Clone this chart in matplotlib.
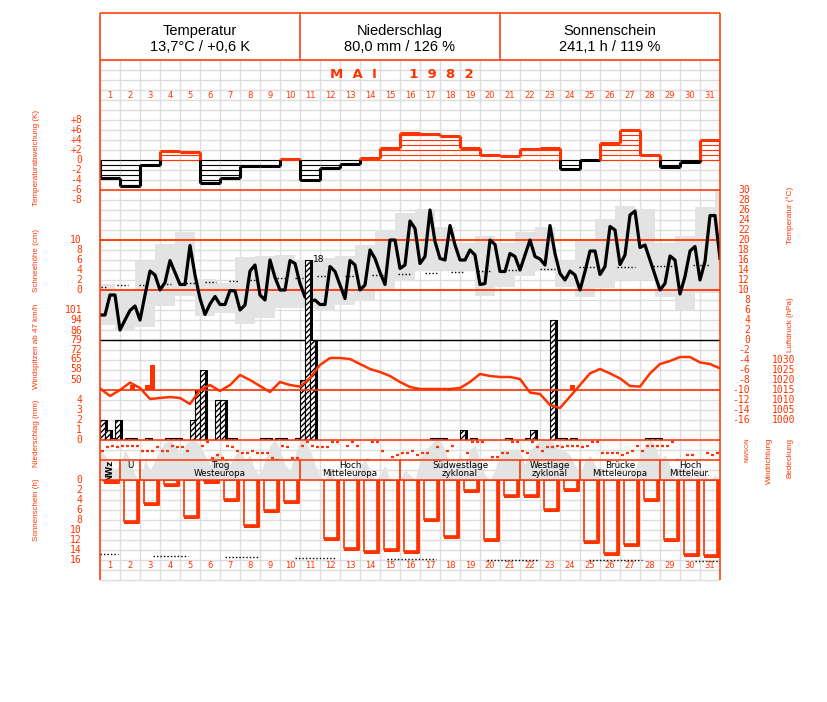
import numpy as np
import matplotlib
matplotlib.use('Agg')
import matplotlib.pyplot as plt

RED = '#ff3300'
GRID = '#dddddd'
GRAY = '#e3e3e3'

# ---------------- Daten ----------------
head_titles = ['Temperatur', 'Niederschlag', 'Sonnenschein']
head_values = ['13,7°C / +0,6 K', '80,0 mm / 126 %', '241,1 h / 119 %']
month_label = 'M  A  I       1  9  8  2'
days = np.arange(1, 32)

# Temperaturabweichung je Tag (K)
anomaly = [-3.5, -5.3, -1.0, 1.9, 1.7, -4.5, -3.5, -1.2, -1.2, 0.3,
           -4.1, -1.5, -0.8, 0.5, 2.5, 5.5, 5.2, 4.9, 2.5, 1.1,
           0.9, 2.3, 2.5, -1.7, 0.0, 3.5, 6.1, 1.1, -1.3, -0.4, 4.1]

# Temperatur alle 6 Stunden (°C)
temp_6h = [5.0, 5.0, 9.0, 9.0,   2.0, 4.0, 5.9, 6.8,   4.0, 9.0, 13.8, 13.0,
           10.0, 11.5, 15.9, 13.5,   11.1, 11.1, 18.9, 13.0,   8.3, 5.1, 7.2, 8.7,
           7.1, 7.1, 9.9, 9.8,   6.0, 7.0, 13.8, 15.0,   9.0, 8.0, 16.0, 12.5,
           10.0, 10.0, 15.9, 15.3,   11.3, 8.6, 7.7, 8.0,   7.1, 7.1, 14.7, 13.7,
           11.0, 8.3, 15.9, 15.0,   10.0, 11.0, 18.0, 16.3,   13.5, 11.1, 20.0, 20.0,
           14.3, 15.0, 23.8, 22.3,   15.3, 16.7, 26.0, 19.7,   16.3, 16.0, 22.9, 19.0,
           16.0, 16.0, 18.0, 17.0,   11.1, 11.3, 20.0, 19.1,   13.7, 13.7, 17.3, 16.7,
           14.0, 17.0, 20.0, 16.7,   16.2, 15.0, 22.9, 17.3,   13.3, 12.0, 13.8, 13.0,
           10.0, 13.7, 17.8, 17.8,   13.1, 14.7, 22.7, 22.0,   15.1, 17.0, 25.0, 25.8,
           18.5, 19.0, 16.0, 13.0,   10.0, 11.3, 16.8, 16.0,   9.2, 12.7, 17.8, 18.7,
           12.0, 15.7, 24.9, 24.9,   16.3]

# Tagesspanne Minimum/Maximum (grau)
tmax = [11.1, 10.1, 15.7, 19.2, 21.5, 12.1, 11.3, 16.5, 16.7, 17.0, 15.9, 16.3,
        16.8, 18.9, 21.9, 25.3, 26.1, 22.5, 19.3, 20.8, 19.4, 21.5, 22.6, 15.7,
        19.7, 24.2, 26.8, 26.2, 19.3, 20.7, 26.5, 30.0]
tmin = [3.0, 1.7, 2.5, 6.7, 8.7, 4.7, 5.3, 3.2, 4.4, 6.3, 6.3, 5.7,
        7.0, 7.7, 9.7, 11.8, 13.8, 14.0, 14.0, 8.7, 10.5, 12.7, 13.8, 10.5,
        8.5, 10.3, 12.0, 12.0, 8.5, 6.0, 9.3, 9.3]

# Normalwerte Temperatur (punktiert): Beginn, Ende (Tage), Wert
tnorm_start = [0.03, 0.85, 1.93, 3.15, 4.32, 5.23, 6.43, 7.48, 8.83, 9.75, 10.83, 12.25,
               13.58, 14.9, 16.25, 17.53, 18.9, 20.4, 22.0, 23.95, 25.83, 27.65, 29.65]
tnorm_end = [0.32, 1.4, 2.32, 3.57, 4.73, 5.82, 6.9, 7.9, 9.33, 10.15, 11.33, 12.75,
             14.17, 15.5, 16.92, 18.2, 19.5, 21.0, 22.75, 24.85, 26.75, 28.6, 30.5]
tnorm_val = [10.5, 10.9, 11.0, 11.1, 11.3, 11.5, 11.8, 12.0, 12.3, 12.4, 12.7, 12.8,
             13.0, 13.2, 13.3, 13.5, 13.7, 13.9, 14.1, 14.5, 14.6, 14.8, 14.9]

# Niederschlag je 6 Stunden (mm)
precip = [[2, 1, 0.2, 2], [0, 0.2, 0.2, 0], [0, 0.2, 0, 0], [0, 0.2, 0.2, 0.2],
          [0, 0, 2, 5], [7, 0, 0, 4], [4, 0.2, 0.2, 0], [0, 0, 0, 0],
          [0.2, 0.2, 0, 0.2], [0.2, 0, 0, 0.2], [6, 18, 10, 0], [0, 0, 0, 0],
          [0, 0, 0, 0], [0, 0, 0, 0], [0, 0, 0, 0], [0, 0, 0, 0],
          [0, 0, 0.2, 0.2], [0.2, 0, 0, 0], [1, 0, 0.2, 0], [0, 0, 0, 0],
          [0, 0.2, 0, 0], [0, 0.2, 1, 0], [0, 0, 12, 0.2], [0.2, 0, 0.2, 0],
          [0, 0, 0, 0], [0, 0, 0, 0], [0, 0, 0, 0], [0, 0.2, 0.2, 0.2],
          [0, 0, 0, 0], [0, 0, 0, 0], [0, 0, 0, 0]]

# Windspitzen (km/h)
gust_t = [1.5, 2.25, 2.5, 23.5]
gust_v = [46.4, 46.4, 61.0, 46.4]

# Luftdruck alle 12 Stunden (hPa)
pressure = [1015.8, 1012, 1015, 1018.7, 1016, 1010.5, 1011, 1011.5, 1011, 1008,
            1015, 1017.5, 1014.5, 1017.5, 1022.5, 1020, 1017, 1014, 1019, 1017.5,
            1016.7, 1021, 1027.5, 1031, 1031, 1030.5, 1028, 1025.5, 1024, 1022,
            1019, 1016.5, 1015.5, 1015.5, 1015.5, 1015.5, 1016, 1019, 1023, 1022,
            1021.5, 1021.5, 1020.5, 1013.7, 1013, 1007.5, 1006, 1011.7, 1017.5, 1023.3,
            1025.5, 1023.3, 1020.8, 1017, 1016.7, 1023.3, 1028, 1029.5, 1031.5, 1031.5,
            1028.8, 1028, 1025.8]

# Windrichtung alle 6 Stunden (Grad), nan = keine Angabe
nan = np.nan
winddir = [190, 130, 100, 130,  100, 100, 100, 100,  190, 190, 190, 130,  190, 190, 100, 130,
           130, 190, nan, nan,  100, 40, 320, 280,  320, 100, 130, 190,  230, 230, 190, 230,
           230, 230, 320, 360,  100, 130, 320, 320,  100, 40, 100, 130,  130, 130, 40, 40,
           nan, 100, 40, 100,  nan, 360, 40, 40,  190, nan, 310, 280,  230, 230, 190, 280,
           230, 230, nan, 130,  nan, 190, 100, nan,  nan, 230, 40, 40,  40, nan, 310, 310,
           230, 230, 40, 40,  190, 230, 40, 130,  190, 130, 130, 100,  130, 100, 100, 100,
           130, 100, 40, 40,  230, 230, 230, 230,  280, 230, 190, 100,  190, 100, 100, 100,
           100, 100, 40, 360,  nan, 280, 280, nan,  nan, 230, 280, 230]

# Bedeckung alle 6 Stunden (Achtel)
cloud = [6, 5, 3, 2,  3, 6, 4, 1,  0, 4, 2, 4,  6, 7.5, 8, 7,  5, 7, 8, 8,
         7, 5, 3, 5,  6, 4, 3, 5,  6, 4, 5, 2,  1, 4, 7, 8,  6, 3, 2, 5,
         8, 8, 6, 3,  1, 0, 2, 0,  0, 0, 0, 1,  3, 4, 2, 0,  1, 3, 0, 0,
         0, 2, 1, 0,  4, 6, 7, 8,  8, 6, 3, 2,  6, 2, 6, 7,  4, 1, 0, 2,
         6, 6, 6, 6,  6, 3, 6, 7,  8, 8, 8, 7,  6, 6, 5, 3,  1, 4, 5, 3,
         1, 0, 0, 0,  0, 0, 1, 2,  5, 7, 8, 7,  4, 5, 3, 0,  1, 3, 1, 0,
         2, 1, 0, 1,  0]

# Sonnenscheindauer (h)
sunshine = [0.2, 8.2, 4.5, 0.8, 7.2, 0.2, 3.7, 8.9, 5.9, 4.1, 0.0, 11.5, 13.5, 14.2, 13.7,
            14.2, 7.8, 11.2, 2.0, 11.7, 3.0, 3.0, 5.7, 1.8, 12.2, 14.5, 12.7, 3.8, 11.8,
            14.7, 14.9]
snorm_start = [0.0, 2.65, 6.25, 9.75, 14.35, 19.35, 24.45, 29.75]
snorm_end = [0.9, 4.4, 7.9, 11.8, 16.8, 21.85, 27.1, 31.0]
snorm_val = [14.8, 15.2, 15.4, 15.6, 15.7, 15.9, 16.0, 16.2]

# Grosswetterlagen
wt_labels = ['NWz', 'U', 'Trog\nWesteuropa', 'Hoch\nMitteleuropa', 'Südwestlage\nzyklonal',
             'Westlage\nzyklonal', 'Brücke\nMitteleuropa', 'Hoch\nMitteleur.']
wt_start = [1, 2, 3, 11, 16, 22, 25, 29]
wt_end = [1, 2, 10, 15, 21, 24, 28, 31]

# ---------------- Figur ----------------
W, H = 827, 702
fig = plt.figure(figsize=(W / 100, H / 100), dpi=100)
fig.patch.set_facecolor('white')


def panel(y0, y1, lo, hi):
    ax = fig.add_axes([100 / W, 1 - y1 / H, 620 / W, (y1 - y0) / H])
    ax.set_xlim(0, 31)
    ax.set_ylim(lo, hi)
    ax.axis('off')
    ax.patch.set_visible(False)
    return ax


def px(x):
    return (x - 100) / 20.0


def ticks(ax, values, labels, x_px, ha):
    tr = ax.get_yaxis_transform()
    xf = (x_px - 100) / 620
    for v, s in zip(values, labels):
        ax.text(xf, v, s, transform=tr, ha=ha, va='center', color=RED,
                fontsize=7, family='DejaVu Sans Mono', clip_on=False)


# Raster
bg = panel(0, H, H, 0)
bg.vlines(np.arange(0, 32), 60, 580, colors=GRID, lw=1)
bg.hlines(np.arange(60, 581, 10), 0, 31, colors=GRID, lw=1)

# Bedeckung + Wetterlagen
cl = panel(440, 480, 0, 8)
t6 = np.arange(len(cloud)) * 0.25
cl.fill_between(t6, 0, cloud, color=GRAY, lw=0)
cl.vlines([s - 1 for s in wt_start[1:]], 0, 4, colors=RED, lw=1.2)
for lab, s, e in zip(wt_labels, wt_start, wt_end):
    xc = (s - 1 + e) / 2
    if lab == 'NWz':
        cl.text(xc, 2, lab, rotation=90, ha='center', va='center', fontsize=6,
                fontweight='bold')
    else:
        cl.text(xc, 3.9, lab, ha='center', va='top', fontsize=6.3, linespacing=1.0)

# Temperatur
tp = panel(190, 440, -20, 30)
tp.bar(np.arange(len(tmax)) - 0.25, np.array(tmax) - np.array(tmin), bottom=tmin,
       width=1, align='edge', color=GRAY, lw=0)
tp.hlines([20, 10], 0, 31, colors=RED, lw=1.3)
tp.hlines(0, 0, 31, colors='k', lw=1)
tp.hlines(tnorm_val, tnorm_start, tnorm_end, colors='k', linestyles=(0, (1, 1.5)), lw=1)
tp.plot(np.arange(len(temp_6h)) * 0.25, temp_6h, color='k', lw=2.3)
tv = list(range(30, -17, -2))
ticks(tp, tv, [str(v) for v in tv], 750, 'right')

sn = panel(240, 290, 0, 10)
sv = [10, 8, 6, 4, 2, 0]
ticks(sn, sv, [str(v) for v in sv], 82, 'right')

# Temperaturabweichung
an = panel(110, 200, -8, 10)
for i, v in enumerate(anomaly):
    col = RED if v > 0 else 'k'
    n = int(np.floor(abs(v)))
    levels = [np.sign(v) * k for k in range(n + 1)] if v != 0 else [0]
    an.hlines(levels, i, i + 1, colors=col, lw=0.8)
    an.hlines(v, i, i + 1, colors=col, lw=2.2)
edges = [0] + anomaly + [0]
for i in range(32):
    a, b = edges[i], edges[i + 1]
    lo, hi = min(a, b), max(a, b)
    if hi > 0:
        an.vlines(i, max(lo, 0), hi, colors=RED, lw=2.2)
    if lo < 0:
        an.vlines(i, lo, min(hi, 0), colors='k', lw=2.2)
av = [8, 6, 4, 2, 0, -2, -4, -6, -8]
ticks(an, av, ['+8', '+6', '+4', '+2', '0', '-2', '-4', '-6', '-8'], 82, 'right')

# Sonnenschein
su = panel(480, 580, 20, 0)
for i, h in enumerate(sunshine):
    if h <= 0:
        continue
    x0, x1 = i + 0.2, i + 0.83
    su.bar(x0, h, width=x1 - x0, align='edge', facecolor='none', edgecolor=RED, lw=1.2)
    su.plot([x0 + 0.06, x1 + 0.05, x1 + 0.05], [h + 0.25, h + 0.25, 0.1], color=RED, lw=2.2)
su.hlines(snorm_val, snorm_start, snorm_end, colors='k', linestyles=(0, (1, 1.5)), lw=1)
uv = list(range(0, 17, 2))
ticks(su, uv, [str(v) for v in uv], 82, 'right')

# Niederschlag
pr = panel(190, 440, 0, 25)
for d, row in enumerate(precip):
    for q, v in enumerate(row):
        if v <= 0:
            continue
        t = d + q * 0.25
        pr.bar(t + 0.13, v, width=0.25, align='edge', color='k', lw=0)
        pr.bar(t, v, width=0.25, align='edge', facecolor='white', edgecolor='k',
               hatch='//////', lw=0.8)
pr.text(10.65, 18, '18', fontsize=6.5, va='center', ha='left')
ticks(pr, [4, 3, 2, 1, 0], ['4', '3', '2', '1', '0'], 82, 'right')

# Windspitzen
w_lo = 50 + (380 - 390) * 51 / 70
w_hi = 50 + (380 - 290) * 51 / 70
wd = panel(290, 390, w_lo, w_hi)
wd.bar(gust_t, np.array(gust_v) - w_lo, bottom=w_lo, width=0.27, align='edge',
       color=RED, lw=0)
wv = [101, 94, 86, 79, 72, 65, 58, 50]
ticks(wd, wv, [str(v) for v in wv], 82, 'right')

# Luftdruck
ps = panel(340, 440, 990, 1040)
ps.hlines(1015, 0, 31, colors=RED, lw=1.2)
ps.plot(np.arange(len(pressure)) * 0.5, pressure, color=RED, lw=1.8)
pv = list(range(1030, 999, -5))
ticks(ps, pv, [str(v) for v in pv], 795, 'right')

# Windrichtung
dr = panel(440, 460, 365, -5)
wdir = np.array(winddir, dtype=float)
tw = np.arange(len(wdir)) * 0.25
ok = ~np.isnan(wdir)
dr.hlines(wdir[ok], tw[ok] + 0.05, tw[ok] + 0.22, colors=RED, lw=1.6)
tr = dr.get_yaxis_transform()
for v, s in zip([0, 90, 180, 270, 360], ['N', 'O', 'S', 'W', 'N']):
    dr.text((747 - 100) / 620, v, s, transform=tr, rotation=90, ha='center', va='center',
            fontsize=4.5, color=RED, clip_on=False)

# ---------------- Rahmen und Texte ----------------
ov = panel(0, H, H, 0)
lk = dict(colors=RED, lw=1.1, clip_on=False)
ov.hlines([13, 60, 190, 440, 460, 480], 0, 31, **lk)
ov.vlines([0, 31], 13, 580, **lk)
ov.vlines([px(300), px(500)], 13, 60, **lk)

for k, (t1, t2) in enumerate(zip(head_titles, head_values)):
    xc = px(200 + 200 * k) if k < 2 else px(610)
    ov.text(xc, 31, t1, ha='center', va='center', fontsize=10.5, family='Liberation Sans')
    ov.text(xc, 47, t2, ha='center', va='center', fontsize=10.5, family='Liberation Sans')

ov.text(px(402), 74, month_label, ha='center', va='center', color=RED, fontsize=9.5,
        fontweight='bold')
for d in days:
    ov.text(d - 0.5, 95, str(d), ha='center', va='center', color=RED, fontsize=6)
    ov.text(d - 0.5, 565, str(d), ha='center', va='center', color=RED, fontsize=6)

titles = [('Temperaturabweichung (K)', 36, 158), ('Schneehöhe (cm)', 36, 260),
          ('Windspitzen ab 47 km/h', 36, 346), ('Niederschlag (mm)', 36, 433),
          ('Sonnenschein (h)', 36, 510), ('Temperatur (°C)', 790, 215),
          ('Luftdruck (hPa)', 790, 325), ('Windrichtung', 769, 461),
          ('Bedeckung', 790, 458)]
for s, x, y in titles:
    ov.text(px(x), y, s, rotation=90, ha='center', va='center', color=RED,
            fontsize=5.8, family='Liberation Sans')

fig.savefig('out.png', dpi=100)
